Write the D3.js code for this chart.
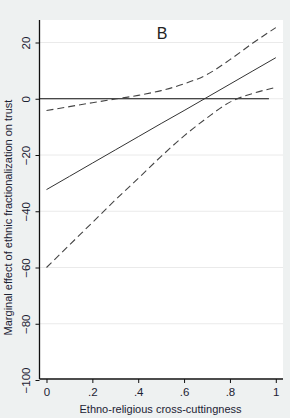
<!DOCTYPE html>
<html>
<head>
<meta charset="utf-8">
<script src="https://cdn.jsdelivr.net/npm/d3@7"></script>
<style>
  body { margin: 0; background: #eef1f1; }
  svg { display: block; font-family: "Liberation Sans", Arial, sans-serif; }
</style>
</head>
<body>
<svg id="chart"></svg>
<script>
// values
const xVals     = [0, 0.1, 0.2, 0.3, 0.4, 0.5, 0.6, 0.7, 0.8, 0.9, 1];
const estimate  = [-32.3, -27.6, -22.9, -18.2, -13.5, -8.8, -4.2, 0.5, 5.2, 9.9, 14.6];
const upperCI   = [-4.2, -2.8, -1.4, -0.1, 1.2, 2.9, 5.3, 8.6, 13.9, 19.8, 25.3];
const lowerCI   = [-60, -52, -44, -36, -28.3, -20.5, -13.2, -6.8, -1.2, 1.9, 4.0];
const xTicks    = [0, 0.2, 0.4, 0.6, 0.8, 1];
const xTickLbl  = ['0', '.2', '.4', '.6', '.8', '1'];
const yTicks    = [20, 0, -20, -40, -60, -80, -100];
const zeroLine  = [-0.03, 0.97];

const W = 290, H = 418;
const svg = d3.select('#chart').attr('width', W).attr('height', H);

const x = d3.scaleLinear().domain([-0.0305, 1.0314]).range([39.5, 283]);
const y = d3.scaleLinear().domain([-100, 28]).range([380, 20]);

svg.append('rect')
  .attr('x', 39.5).attr('y', 20)
  .attr('width', 283 - 39.5).attr('height', 360)
  .attr('fill', '#fff');

// grid
svg.selectAll('.grid')
  .data(yTicks.filter(d => d > -100))
  .enter().append('line')
  .attr('x1', 40).attr('x2', 283)
  .attr('y1', d => y(d)).attr('y2', d => y(d))
  .attr('stroke', '#eaeaea').attr('stroke-width', 1);

// axes
const yAxis = svg.append('g')
  .attr('transform', 'translate(39.5,0)')
  .call(d3.axisLeft(y).tickValues(yTicks).tickSize(4).tickPadding(3).tickFormat(d3.format('d')));
yAxis.select('.domain').attr('d', 'M0,20V379').attr('stroke', '#111').attr('stroke-width', 1.3);
yAxis.selectAll('.tick line').attr('stroke', '#111');
yAxis.selectAll('.tick text')
  .attr('x', null).attr('dy', null)
  .attr('transform', 'translate(-13.5,0) rotate(-90)')
  .attr('text-anchor', 'middle')
  .attr('dy', '0.35em')
  .attr('font-size', 11.5).attr('fill', '#1c2233');

const xAxis = svg.append('g')
  .attr('transform', 'translate(0,379)')
  .call(d3.axisBottom(x).tickValues(xTicks).tickSize(4).tickPadding(3).tickFormat((d, i) => xTickLbl[i]));
xAxis.select('.domain').attr('d', 'M39.5,0H283').attr('stroke', '#111').attr('stroke-width', 1.3);
xAxis.selectAll('.tick line').attr('stroke', '#111');
xAxis.selectAll('.tick text')
  .attr('y', 12.7).attr('dy', '0.35em')
  .attr('font-size', 11.5).attr('fill', '#1c2233');

// zero reference line
svg.append('line')
  .attr('x1', x(zeroLine[0])).attr('x2', x(zeroLine[1]))
  .attr('y1', y(0)).attr('y2', y(0))
  .attr('stroke', '#111').attr('stroke-width', 1.2);

const line = d3.line().x((d, i) => x(xVals[i])).y(d => y(d));

svg.append('path')
  .attr('d', line(estimate))
  .attr('fill', 'none').attr('stroke', '#333').attr('stroke-width', 1);

[upperCI, lowerCI].forEach(s => {
  svg.append('path')
    .attr('d', line.curve(d3.curveMonotoneX)(s))
    .attr('fill', 'none').attr('stroke', '#444').attr('stroke-width', 1.1)
    .attr('stroke-dasharray', '7,4');
});

// titles
svg.append('text')
  .attr('x', 162).attr('y', 39)
  .attr('text-anchor', 'middle')
  .attr('font-size', 16).attr('fill', '#222')
  .text('B');

svg.append('text')
  .attr('transform', 'translate(11.5,217.5) rotate(-90)')
  .attr('text-anchor', 'middle')
  .attr('font-size', 11).attr('fill', '#1c2233')
  .text('Marginal effect of ethnic fractionalization on trust');

svg.append('text')
  .attr('x', 160.5).attr('y', 412.5)
  .attr('text-anchor', 'middle')
  .attr('font-size', 11).attr('fill', '#1c2233')
  .text('Ethno-religious cross-cuttingness');
</script>
</body>
</html>
